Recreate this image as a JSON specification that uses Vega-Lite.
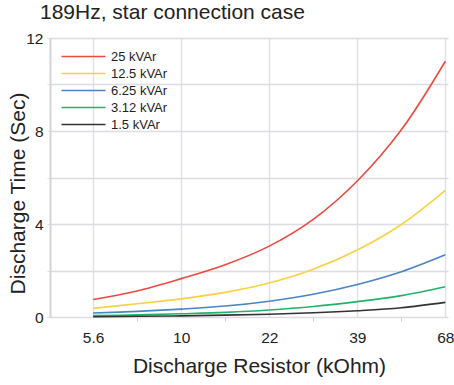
{
  "$schema": "https://vega.github.io/schema/vega-lite/v6.json",
  "width": 398,
  "height": 279,
  "autosize": {"type": "none"},
  "padding": {"left": 50, "top": 38, "right": 6, "bottom": 68},
  "background": "white",
  "title": {
    "text": "189Hz, star connection case",
    "anchor": "start",
    "frame": "group",
    "dx": -10,
    "offset": -9,
    "baseline": "alphabetic",
    "font": "Liberation Sans",
    "fontSize": 21,
    "fontWeight": "normal",
    "color": "#222222"
  },
  "config": {
    "view": {"stroke": null},
    "font": "Liberation Sans"
  },
  "data": {
    "values": [
      {"kvar": "25 kVAr", "x": 0, "t": 0.75},
      {"kvar": "25 kVAr", "x": 0.5, "t": 1.12},
      {"kvar": "25 kVAr", "x": 1, "t": 1.65},
      {"kvar": "25 kVAr", "x": 1.5, "t": 2.25},
      {"kvar": "25 kVAr", "x": 2, "t": 3.05},
      {"kvar": "25 kVAr", "x": 2.5, "t": 4.2},
      {"kvar": "25 kVAr", "x": 3, "t": 5.85},
      {"kvar": "25 kVAr", "x": 3.5, "t": 8.05},
      {"kvar": "25 kVAr", "x": 4, "t": 11.0},
      {"kvar": "12.5 kVAr", "x": 0, "t": 0.37},
      {"kvar": "12.5 kVAr", "x": 0.5, "t": 0.57},
      {"kvar": "12.5 kVAr", "x": 1, "t": 0.78},
      {"kvar": "12.5 kVAr", "x": 1.5, "t": 1.06},
      {"kvar": "12.5 kVAr", "x": 2, "t": 1.46},
      {"kvar": "12.5 kVAr", "x": 2.5, "t": 2.05},
      {"kvar": "12.5 kVAr", "x": 3, "t": 2.88},
      {"kvar": "12.5 kVAr", "x": 3.5, "t": 3.98},
      {"kvar": "12.5 kVAr", "x": 4, "t": 5.45},
      {"kvar": "6.25 kVAr", "x": 0, "t": 0.17},
      {"kvar": "6.25 kVAr", "x": 0.5, "t": 0.24},
      {"kvar": "6.25 kVAr", "x": 1, "t": 0.34},
      {"kvar": "6.25 kVAr", "x": 1.5, "t": 0.47},
      {"kvar": "6.25 kVAr", "x": 2, "t": 0.68},
      {"kvar": "6.25 kVAr", "x": 2.5, "t": 0.98},
      {"kvar": "6.25 kVAr", "x": 3, "t": 1.4},
      {"kvar": "6.25 kVAr", "x": 3.5, "t": 1.95},
      {"kvar": "6.25 kVAr", "x": 4, "t": 2.68},
      {"kvar": "3.12 kVAr", "x": 0, "t": 0.06},
      {"kvar": "3.12 kVAr", "x": 0.5, "t": 0.09},
      {"kvar": "3.12 kVAr", "x": 1, "t": 0.14},
      {"kvar": "3.12 kVAr", "x": 1.5, "t": 0.2},
      {"kvar": "3.12 kVAr", "x": 2, "t": 0.3},
      {"kvar": "3.12 kVAr", "x": 2.5, "t": 0.45},
      {"kvar": "3.12 kVAr", "x": 3, "t": 0.66},
      {"kvar": "3.12 kVAr", "x": 3.5, "t": 0.92},
      {"kvar": "3.12 kVAr", "x": 4, "t": 1.3},
      {"kvar": "1.5 kVAr", "x": 0, "t": 0.01},
      {"kvar": "1.5 kVAr", "x": 0.5, "t": 0.03},
      {"kvar": "1.5 kVAr", "x": 1, "t": 0.05},
      {"kvar": "1.5 kVAr", "x": 1.5, "t": 0.08},
      {"kvar": "1.5 kVAr", "x": 2, "t": 0.12},
      {"kvar": "1.5 kVAr", "x": 2.5, "t": 0.18},
      {"kvar": "1.5 kVAr", "x": 3, "t": 0.27},
      {"kvar": "1.5 kVAr", "x": 3.5, "t": 0.4},
      {"kvar": "1.5 kVAr", "x": 4, "t": 0.63}
    ]
  },
  "mark": {"type": "line", "interpolate": "catmull-rom", "strokeWidth": 1.6},
  "encoding": {
    "x": {
      "field": "x",
      "type": "quantitative",
      "scale": {"domain": [-0.49, 4.03], "nice": false, "zero": false},
      "axis": {
        "title": "Discharge Resistor (kOhm)",
        "titleFont": "Liberation Sans",
        "titleFontSize": 21,
        "titleFontWeight": "normal",
        "titleColor": "#222222",
        "titleX": 209,
        "titleY": 49,
        "titleBaseline": "middle",
        "titleAlign": "center",
        "values": [0, 0.5, 1, 1.5, 2, 2.5, 3, 3.5, 4],
        "labelExpr": "datum.value % 1 != 0 ? '' : ['5.6','10','22','39','68'][datum.value]",
        "labelFont": "Liberation Sans",
        "labelFontSize": 15.5,
        "labelColor": "#222222",
        "labelPadding": 9,
        "labelFlush": false,
        "labelOverlap": false,
        "domain": false,
        "grid": true,
        "gridColor": "#dce3ea",
        "gridWidth": 1.5,
        "gridOpacity": {"condition": {"test": "datum.value % 1 == 0", "value": 1}, "value": 0},
        "ticks": true,
        "tickSize": 4,
        "tickColor": "#c9d3dc",
        "tickOpacity": {"condition": {"test": "datum.value % 1 == 0", "value": 0}, "value": 1}
      }
    },
    "y": {
      "field": "t",
      "type": "quantitative",
      "scale": {"domain": [0, 12], "nice": false},
      "axis": {
        "title": "Discharge Time (Sec)",
        "titleFont": "Liberation Sans",
        "titleFontSize": 21,
        "titleFontWeight": "normal",
        "titleColor": "#222222",
        "titleX": -32,
        "titleY": 155,
        "titleBaseline": "middle",
        "titleAlign": "center",
        "values": [0, 2, 4, 6, 8, 10, 12],
        "labelExpr": "datum.value % 4 == 0 ? datum.label : ''",
        "labelFont": "Liberation Sans",
        "labelFontSize": 15.5,
        "labelColor": "#222222",
        "labelPadding": 4,
        "domain": true,
        "domainColor": "#d2d4d8",
        "domainWidth": 2,
        "grid": true,
        "gridColor": "#dcdce2",
        "gridWidth": 1.5,
        "ticks": true,
        "tickSize": 3,
        "tickColor": "#dcdce2"
      }
    },
    "color": {
      "field": "kvar",
      "type": "nominal",
      "scale": {
        "domain": ["25 kVAr", "12.5 kVAr", "6.25 kVAr", "3.12 kVAr", "1.5 kVAr"],
        "range": ["#ec4a3f", "#fbd044", "#4a84c4", "#22b36b", "#333333"]
      },
      "legend": {
        "title": null,
        "orient": "none",
        "legendX": 27,
        "legendY": 12,
        "padding": 0,
        "symbolType": "M-4,0H4",
        "symbolSize": 121,
        "symbolStrokeWidth": 1.6,
        "labelFont": "Liberation Sans",
        "labelFontSize": 13,
        "labelColor": "#222222",
        "labelOffset": 21,
        "rowPadding": 3
      }
    }
  }
}
